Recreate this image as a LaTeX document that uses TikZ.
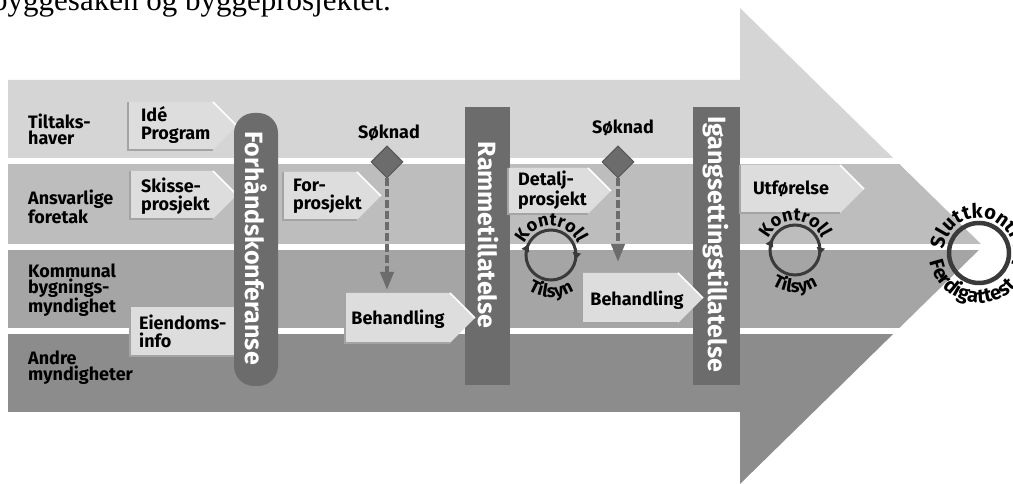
\documentclass[tikz,border=0pt]{standalone}
\usepackage{fontspec}
\setmainfont{Fira Sans}
\newfontfamily\captionserif{Liberation Serif}
\usepackage{xcolor}
\usepackage{tikz}
\usetikzlibrary{arrows.meta, decorations.text, decorations.markings, shapes.geometric, calc}
\definecolor{laneone}{HTML}{D5D5D5}
\definecolor{lanetwo}{HTML}{BDBDBD}
\definecolor{lanethree}{HTML}{A5A5A5}
\definecolor{lanefour}{HTML}{8C8C8C}
\definecolor{taskfill}{HTML}{DDDDDD}
\definecolor{taskedge}{HTML}{A4A4A4}
\definecolor{barfill}{HTML}{6C6C6C}
\definecolor{ringdraw}{HTML}{3A3A3A}
\newcommand\ringfont{\fontsize{18}{18}\selectfont\bfseries}
\newcommand\finalfont{\fontsize{20}{20}\selectfont\bfseries}
\tikzset{
    lanelabel/.style={anchor=west, align=left, inner sep=0pt, font=\fontsize{18}{16}\selectfont\bfseries},
    tasktext/.style={anchor=west, align=left, inner sep=0pt, font=\fontsize{18}{18}\selectfont\bfseries},
    permittext/.style={rotate=-90, inner sep=0pt, text=white, font=\fontsize{25}{25}\selectfont\bfseries},
    gatelabel/.style={inner sep=0pt, font=\fontsize{18}{18}\selectfont\bfseries},
    taskrim/.style={draw=taskedge, line width=2.5pt},
    glint/.style={draw=white, line width=1.5pt},
    gatemark/.style={diamond, fill=barfill, draw=barfill!80!black, line width=1pt, minimum size=32pt, inner sep=0pt},
    gateflow/.style={draw=barfill, line width=4pt, dash pattern=on 8pt off 3pt, -{Triangle[length=18pt, width=13pt]}},
    cyclering/.style={draw=ringdraw, line width=3pt, postaction={decorate}, decoration={markings,
        mark=at position 0.43 with {\arrowreversed[ringdraw]{Triangle[length=7pt, width=8pt]}},
        mark=at position 0.97 with {\arrowreversed[ringdraw]{Triangle[length=7pt, width=8pt]}}}}
}
\begin{document}
\begin{tikzpicture}[x=1pt, y=1pt]
    \useasboundingbox (0,0) rectangle (1013,484);
    \fill[white] (0,0) rectangle (1013,484);
    % caption line, cut at the top
    \node[anchor=base west, inner sep=0pt, font=\captionserif\fontsize{31}{31}\selectfont] (caption) at (-8,473) {byggesaken og byggeprosjektet.};
    % big arrow with four lanes
    \begin{scope}
        \clip (8,404) -- (740,404) -- (740,476) -- (983,238) -- (740,0) -- (740,72) -- (8,72) -- cycle;
        \fill[laneone] (0,326) rectangle (1013,490);
        \fill[lanetwo] (0,240) rectangle (1013,320);
        \fill[lanethree] (0,156) rectangle (1013,234);
        \fill[lanefour] (0,-10) rectangle (1013,150);
    \end{scope}
    \node[lanelabel] (tiltak) at (28,355) {Tiltaks-\\haver};
    \node[lanelabel] (foretak) at (28,277) {Ansvarlige\\foretak};
    \node[lanelabel] (kommune) at (28,194) {Kommunal\\bygnings-\\myndighet};
    \node[lanelabel] (andre) at (28,116) {Andre\\myndigheter};

    % early steps
    \fill[taskfill] (128,382) -- ++(85,0) -- ++(24,-24) -- ++(-24,-24) -- ++(-85,0) -- cycle;
    \draw[taskrim] (128,382) |- (213,334);
    \draw[glint] (213,382) -- ++(24,-24);
    \node[tasktext] (ide) at (141,359) {Idé\\Program};
    \fill[taskfill] (130,313) -- ++(83,0) -- ++(24,-24) -- ++(-24,-24) -- ++(-83,0) -- cycle;
    \draw[taskrim] (130,313) |- (213,265);
    \draw[glint] (213,313) -- ++(24,-24);
    \node[tasktext] (skisse) at (141,288) {Skisse-\\prosjekt};
    \fill[taskfill] (130,177) rectangle (240,128);
    \draw[taskrim] (130,177) |- (240,128);
    \node[tasktext] (eiendom) at (139,153) {Eiendoms-\\info};
    \fill[taskfill] (283,312) -- ++(74,0) -- ++(24,-24) -- ++(-24,-24) -- ++(-74,0) -- cycle;
    \draw[taskrim] (283,312) |- (357,264);
    \draw[glint] (357,312) -- ++(24,-24);
    \node[tasktext] (forprosjekt) at (293,288) {For-\\prosjekt};

    % conference and permits
    \fill[barfill, rounded corners=20pt] (234,98) rectangle (278,371);
    \node[permittext] (konferanse) at (256,236) {Forhåndskonferanse};
    \fill[barfill] (465,99) rectangle (510,377);
    \node[permittext] (ramme) at (488,249) {Rammetillatelse};
    \fill[barfill] (693,99) rectangle (740,377);
    \node[permittext] (igang) at (716,240) {Igangsettingstillatelse};

    % later steps
    \fill[taskfill] (508,316) -- ++(80,0) -- ++(23,-23) -- ++(-23,-23) -- ++(-80,0) -- cycle;
    \draw[taskrim] (508,316) |- (588,270);
    \draw[glint] (588,316) -- ++(23,-23);
    \node[tasktext] (detalj) at (518,294) {Detalj-\\prosjekt};
    \fill[taskfill] (345,191) -- ++(105,0) -- ++(25,-25) -- ++(-25,-25) -- ++(-105,0) -- cycle;
    \draw[taskrim] (345,191) |- (450,141);
    \draw[glint] (450,191) -- ++(25,-25);
    \node[tasktext, anchor=center] (behandlingA) at (398,165) {Behandling};
    \fill[taskfill] (582,211) -- ++(96,0) -- ++(25,-25) -- ++(-25,-25) -- ++(-96,0) -- cycle;
    \draw[taskrim] (582,211) |- (678,161);
    \draw[glint] (678,211) -- ++(25,-25);
    \node[tasktext, anchor=center] (behandlingB) at (637,184) {Behandling};
    \fill[taskfill] (740,319) -- ++(100,0) -- ++(24,-24) -- ++(-24,-24) -- ++(-100,0) -- cycle;
    \draw[taskrim] (740,319) |- (840,271);
    \draw[glint] (840,319) -- ++(24,-24);
    \node[tasktext, anchor=center] (utforelse) at (791,295) {Utførelse};

    % applications
    \node[gatelabel] (soknadA) at (389,351) {Søknad};
    \node[gatemark] (gateA) at (387,322) {};
    \coordinate (tipA) at (387,194);
    \draw[gateflow] (gateA.south) -- (tipA);
    \node[gatelabel] (soknadB) at (623,356) {Søknad};
    \node[gatemark] (gateB) at (618,322) {};
    \coordinate (tipB) at (618,222);
    \draw[gateflow] (gateB.south) -- (tipB);

    % inspection loops
    \begin{scope}
        \ringfont
        \coordinate (ringA) at (551,229);
        \draw[cyclering] (ringA) circle (25pt);
        \path[decorate, decoration={text along path, text align=center, text={Kontroll}}]
            ($(ringA)+(170:29)$) arc[start angle=170, end angle=10, radius=29pt];
        \path[decorate, decoration={text along path, text align=center, text={Tilsyn}}]
            ($(ringA)+(195:42)$) arc[start angle=195, end angle=345, radius=42pt];
        \coordinate (ringB) at (795,234);
        \draw[cyclering] (ringB) circle (25pt);
        \path[decorate, decoration={text along path, text align=center, text={Kontroll}}]
            ($(ringB)+(170:29)$) arc[start angle=170, end angle=10, radius=29pt];
        \path[decorate, decoration={text along path, text align=center, text={Tilsyn}}]
            ($(ringB)+(195:42)$) arc[start angle=195, end angle=345, radius=42pt];
    \end{scope}

    % final inspection
    \begin{scope}
        \finalfont
        \coordinate (slutt) at (979,231);
        \draw[draw=ringdraw, line width=4.5pt] (slutt) circle (30pt);
        \path[decorate, decoration={text along path, text align=left, text={Sluttkontroll}}]
            ($(slutt)+(174:35)$) arc[start angle=174, end angle=-90, radius=35pt];
        \path[decorate, decoration={text along path, text align=left, text={Ferdigattest}}]
            ($(slutt)+(190:50)$) arc[start angle=190, end angle=420, radius=50pt];
    \end{scope}
\end{tikzpicture}
\end{document}
